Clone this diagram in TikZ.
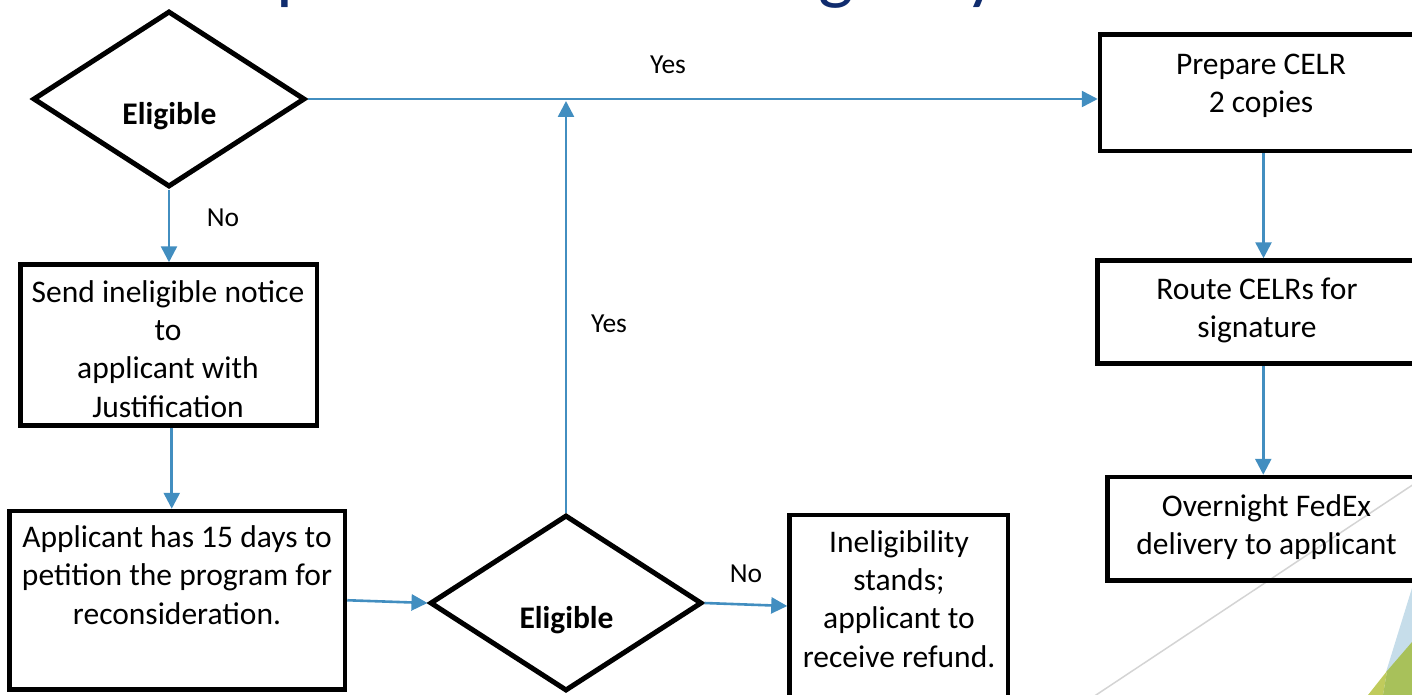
\documentclass[tikz,border=0pt]{standalone}
\usepackage{fontspec}
\setmainfont{Carlito}
\usetikzlibrary{shapes.geometric,arrows.meta}
\definecolor{flowblue}{RGB}{66,142,192}
\definecolor{titlenavy}{RGB}{16,44,110}
\definecolor{decoblue}{RGB}{198,221,234}
\definecolor{decogreen}{RGB}{168,193,90}
\definecolor{decoyellow}{RGB}{192,203,92}
\definecolor{decogrey}{RGB}{212,212,212}
\begin{document}
\begin{tikzpicture}[x=1pt,y=-1pt,
  box/.style={draw, rectangle, line width=4.5pt, inner sep=0pt},
  dec/.style={draw, diamond, line width=5pt, inner sep=0pt, minimum width=272pt, minimum height=176pt},
  txt/.style={align=center, font=\fontsize{31.5}{38.3}\selectfont, inner sep=0pt},
  dtxt/.style={font=\fontsize{31.5}{38}\selectfont\bfseries, inner sep=0pt, anchor=base},
  lbl/.style={font=\fontsize{27.5}{30}\selectfont, inner sep=0pt},
  arr/.style={draw=flowblue, line width=2.6pt, -{Triangle[length=16pt,width=16pt]}},
  ttl/.style={font=\fontsize{75}{80}\selectfont, text=titlenavy, inner sep=0pt, anchor=base west}
]
\useasboundingbox (0,0) rectangle (1412,695);
\clip (0,0) rectangle (1412,695);
% background decoration
\fill[decoblue] (1412,588) -- (1386,672) -- (1412,695) -- cycle;
\fill[decoyellow] (1368,695) -- (1387,671) -- (1383,695) -- cycle;
\fill[decogreen] (1387,671) -- (1412,642) -- (1412,695) -- (1383,695) -- cycle;
\draw[decogrey, line width=1.5pt] (1420,480) -- (1090,699);
% title fragments (only descenders visible)
\node[ttl] (tp) at (276,-4) {p};
\node[ttl] (tg) at (818,-4) {g};
\node[ttl] (ty) at (965,-4) {y};
% decisions
\node[dec] (d1) at (169,99) {};
\node[dtxt] (d1t) at (169.5,125) {Eligible};
\node[dec] (d2) at (566,603) {};
\node[dtxt] (d2t) at (566.5,628) {Eligible};
% boxes
\node[box, minimum width=296.5pt, minimum height=161pt] (send) at (168.75,345) {};
\node[txt] (sendt) at (168,349) {Send ineligible notice\\to\\applicant with\\Justification};
\node[box, minimum width=335.5pt, minimum height=178.5pt] (app) at (177.25,600.25) {};
\node[txt] (appt) at (177,575) {Applicant has 15 days to\\petition the program for\\reconsideration.};
\node[box, minimum width=218.5pt, minimum height=190pt] (inel) at (898.75,610) {};
\node[txt] (inelt) at (899,599) {Ineligibility\\stands;\\applicant to\\receive refund.};
\node[box, minimum width=320pt, minimum height=116.5pt] (prep) at (1260,92.75) {};
\node[txt] (prept) at (1261,86) {Prepare CELR\\2 copies};
\node[box, minimum width=319.5pt, minimum height=103pt] (route) at (1257.25,312) {};
\node[txt] (routet) at (1257,310.5) {Route CELRs for\\signature};
\node[box, minimum width=319.5pt, minimum height=103.5pt] (ov) at (1267.25,528.75) {};
\node[txt] (ovt) at (1266.5,527) {Overnight FedEx\\delivery to applicant};
% connectors
\draw[arr] (d1.south) -- (d1.south |- send.north);
\draw[arr] ([xshift=3pt]send.south) -- ([xshift=3pt]send.south |- app.north);
\draw[arr] (app.east) -- (d2.west);
\draw[arr] (d2.east) -- ([yshift=4pt]inel.west);
\draw[arr] (d1.east) -- (d1.east -| prep.west);
\draw[arr, shorten >=2pt] (d2.north) -- (d2.north |- d1.east);
\draw[arr] ([xshift=3.5pt]prep.south) -- ([xshift=3.5pt]prep.south |- route.north);
\draw[arr] ([xshift=6pt]route.south) -- ([xshift=6pt]route.south |- ov.north);
% labels
\node[lbl] (yes1) at (668,65) {Yes};
\node[lbl] (no1) at (223,218) {No};
\node[lbl] (yes2) at (609,324) {Yes};
\node[lbl] (no2) at (746,574) {No};
\end{tikzpicture}
\end{document}
